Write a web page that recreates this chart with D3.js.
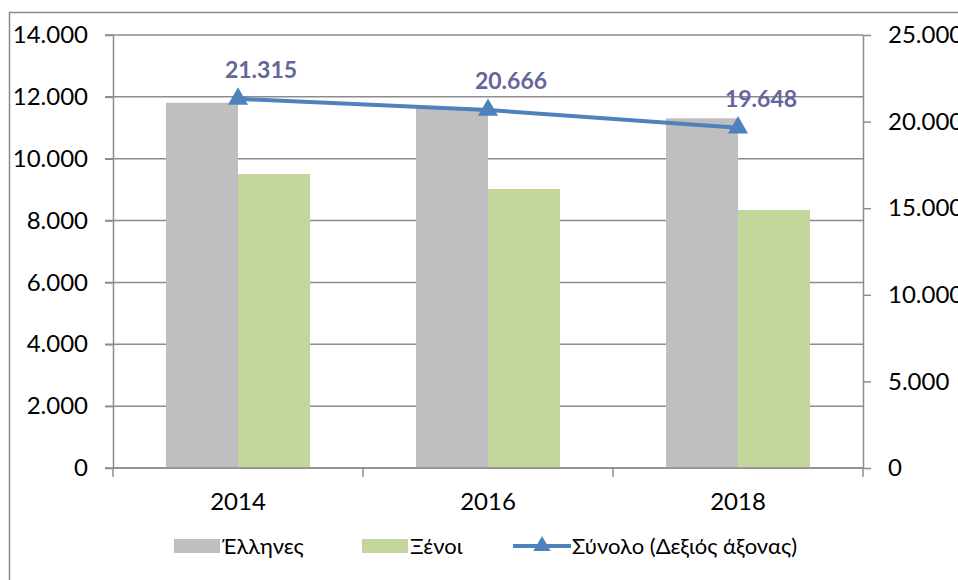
<!DOCTYPE html>
<html>
<head>
<meta charset="utf-8">
<script src="https://cdn.jsdelivr.net/npm/d3@7"></script>
<style>
  body { margin: 0; background: #fff; }
  svg { display: block; font-family: Lato, "Open Sans", sans-serif; }
</style>
</head>
<body>
<div id="chart"></div>
<script>
// data
const years = ["2014", "2016", "2018"];
const greeks = [11810, 11645, 11307];
const foreigners = [9505, 9021, 8341];
const totals = [21315, 20666, 19648];
const leftTicks = [0, 2000, 4000, 6000, 8000, 10000, 12000, 14000];
const rightTicks = [0, 5000, 10000, 15000, 20000, 25000];
const seriesNames = ["Έλληνες", "Ξένοι", "Σύνολο (Δεξιός άξονας)"];

const width = 958, height = 580;
const margin = { top: 35, right: 95, bottom: 112, left: 113 };
const innerW = width - margin.left - margin.right;
const innerH = height - margin.top - margin.bottom;

const gridColor = "#8c8c8c";
const colGreek = "#bfbfbf";
const colForeign = "#c3d69b";
const colLine = "#4f81bd";
const colLabel = "#65659e";

const grLocale = d3.formatLocale({ decimal: ",", thousands: ".", grouping: [3], currency: ["", "€"] });
const fmt = grLocale.format(",d");

const svg = d3.select("#chart").append("svg")
    .attr("width", width)
    .attr("height", height);

// outer frame
svg.append("rect")
    .attr("x", 9.5).attr("y", 12.5)
    .attr("width", 1000).attr("height", 700)
    .attr("fill", "none")
    .attr("stroke", "#8a8a8a")
    .attr("stroke-width", 1.5);

const g = svg.append("g")
    .attr("transform", "translate(" + margin.left + "," + margin.top + ")");

// scales
const x = d3.scaleBand().domain(years).range([0, innerW]);
const xs = d3.scaleBand().domain([0, 1]).range([53, x.bandwidth() - 53]);
const yL = d3.scaleLinear().domain([0, 14000]).range([innerH, 0]);
const yR = d3.scaleLinear().domain([0, 25000]).range([innerH, 0]);

// gridlines
g.append("g")
    .selectAll("line")
    .data(leftTicks)
    .join("line")
    .attr("x1", -8).attr("x2", innerW)
    .attr("y1", d => yL(d)).attr("y2", d => yL(d))
    .attr("stroke", gridColor)
    .attr("stroke-width", 1.5);

// bars
const bars = [greeks, foreigners];
const barColors = [colGreek, colForeign];
bars.forEach((vals, i) => {
    g.append("g")
        .selectAll("rect")
        .data(vals)
        .join("rect")
        .attr("x", (d, j) => x(years[j]) + xs(i))
        .attr("y", d => yL(d))
        .attr("width", xs.bandwidth())
        .attr("height", d => innerH - yL(d))
        .attr("fill", barColors[i]);
});

// axes
function styleAxis(sel) {
    sel.selectAll(".domain").attr("stroke", gridColor).attr("stroke-width", 1.5);
    sel.selectAll(".tick line").attr("stroke", gridColor).attr("stroke-width", 1.5);
    sel.selectAll("text").attr("fill", "#000").style("font-size", "24px")
        .style("font-family", "Lato, 'Open Sans', sans-serif");
}

g.append("g")
    .call(d3.axisLeft(yL).tickValues(leftTicks).tickFormat(fmt).tickSize(8).tickSizeOuter(0).tickPadding(17))
    .call(styleAxis);

g.append("g")
    .attr("transform", "translate(" + innerW + ",0)")
    .call(d3.axisRight(yR).tickValues(rightTicks).tickFormat(fmt).tickSize(8).tickSizeOuter(0).tickPadding(17))
    .call(styleAxis);

// x axis: ticks between categories
const xAxis = g.append("g")
    .attr("transform", "translate(0," + innerH + ")");
xAxis.append("g")
    .selectAll("line")
    .data(d3.range(years.length + 1))
    .join("line")
    .attr("x1", d => d * x.step()).attr("x2", d => d * x.step())
    .attr("y1", 0).attr("y2", 9)
    .attr("stroke", gridColor)
    .attr("stroke-width", 1.5);
xAxis.append("line")
    .attr("x1", 0).attr("x2", innerW)
    .attr("stroke", gridColor).attr("stroke-width", 1.5);
xAxis.selectAll(".cat")
    .data(years)
    .join("text")
    .attr("class", "cat")
    .attr("x", d => x(d) + x.bandwidth() / 2)
    .attr("y", 42)
    .attr("text-anchor", "middle")
    .style("font-size", "24px")
    .text(d => d);

// total line (right axis)
const line = d3.line()
    .x((d, i) => x(years[i]) + x.bandwidth() / 2)
    .y(d => yR(d));

g.append("path")
    .datum(totals)
    .attr("d", line)
    .attr("fill", "none")
    .attr("stroke", colLine)
    .attr("stroke-width", 4);

g.append("g")
    .selectAll("path")
    .data(totals)
    .join("path")
    .attr("transform", (d, i) => "translate(" + (x(years[i]) + x.bandwidth() / 2) + "," + yR(d) + ")")
    .attr("d", d3.symbol(d3.symbolTriangle, 175))
    .attr("fill", colLine);

g.append("g")
    .selectAll("text")
    .data(totals)
    .join("text")
    .attr("x", (d, i) => x(years[i]) + x.bandwidth() / 2 + 23)
    .attr("y", d => yR(d) - 21)
    .attr("text-anchor", "middle")
    .attr("fill", colLabel)
    .style("font-size", "23px")
    .style("font-weight", "bold")
    .text(d => fmt(d));

// legend
const legend = svg.append("g").attr("transform", "translate(0,546)");
const legItems = [
    { x: 174, type: "rect", color: colGreek, name: seriesNames[0] },
    { x: 362, type: "rect", color: colForeign, name: seriesNames[1] },
    { x: 513, type: "line", color: colLine, name: seriesNames[2] }
];
legItems.forEach(it => {
    if (it.type === "rect") {
        legend.append("rect")
            .attr("x", it.x).attr("y", -7)
            .attr("width", 46).attr("height", 14)
            .attr("fill", it.color);
    } else {
        legend.append("line")
            .attr("x1", it.x).attr("x2", it.x + 58)
            .attr("y1", 0).attr("y2", 0)
            .attr("stroke", it.color).attr("stroke-width", 4);
        legend.append("path")
            .attr("transform", "translate(" + (it.x + 29) + ",0)")
            .attr("d", d3.symbol(d3.symbolTriangle, 130))
            .attr("fill", it.color);
    }
    legend.append("text")
        .attr("x", it.x + (it.type === "rect" ? 48 : 59))
        .attr("y", 8)
        .style("font-size", "22px")
        .text(it.name);
});
</script>
</body>
</html>
